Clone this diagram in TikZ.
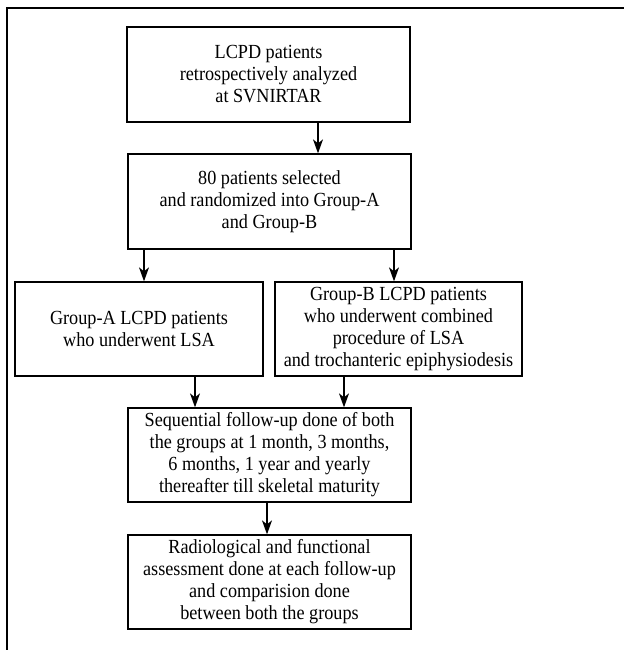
\documentclass[tikz,border=0pt]{standalone}
\usepackage{fontspec}
\setmainfont{Liberation Serif}[FakeStretch=0.91]
\usetikzlibrary{arrows.meta}
\begin{document}
\begin{tikzpicture}[x=1pt,y=-1pt,
  flowbox/.style={draw, line width=1.3pt, rectangle, align=center, inner sep=0pt,
    font=\fontsize{20}{22}\selectfont,
    execute at begin node={\rule{0pt}{24pt}}},
  arr/.style={draw, line width=1.2pt, -{Stealth[length=14pt,width=10pt,inset=4pt]}}]
\useasboundingbox (0,0) rectangle (624,650);
\draw[line width=1.5pt] (7,650) -- (7,8) -- (624,8);
\node[flowbox, minimum width=283, minimum height=95] (b1) at (268.5,74.5)
  {LCPD patients\\retrospectively analyzed\\at SVNIRTAR};
\node[flowbox, minimum width=283, minimum height=95] (b2) at (269.5,201.5)
  {80 patients selected\\and randomized into Group-A\\and Group-B};
\node[flowbox, minimum width=248, minimum height=94] (ga) at (139,329)
  {Group-A LCPD patients\\who underwent LSA};
\node[flowbox, minimum width=247, minimum height=94] (gb) at (398.5,329)
  {Group-B LCPD patients\\who underwent combined\\procedure of LSA\\and trochanteric epiphysiodesis};
\node[flowbox, minimum width=283, minimum height=94] (b4) at (269.5,455)
  {Sequential follow-up done of both\\the groups at 1 month, 3 months,\\6 months, 1 year and yearly\\thereafter till skeletal maturity};
\node[flowbox, minimum width=283, minimum height=94] (b5) at (269.5,582)
  {Radiological and functional\\assessment done at each follow-up\\and comparision done\\between both the groups};
\coordinate (x1) at (318,0);
\coordinate (x2) at (144,0);
\coordinate (x3) at (394,0);
\coordinate (x4) at (195,0);
\coordinate (x5) at (344,0);
\coordinate (x6) at (267,0);
\draw[arr] (b1.south -| x1) -- (b2.north -| x1);
\draw[arr] (b2.south -| x2) -- (ga.north -| x2);
\draw[arr] (b2.south -| x3) -- (gb.north -| x3);
\draw[arr] (ga.south -| x4) -- (b4.north -| x4);
\draw[arr] (gb.south -| x5) -- (b4.north -| x5);
\draw[arr] (b4.south -| x6) -- (b5.north -| x6);
\end{tikzpicture}
\end{document}
